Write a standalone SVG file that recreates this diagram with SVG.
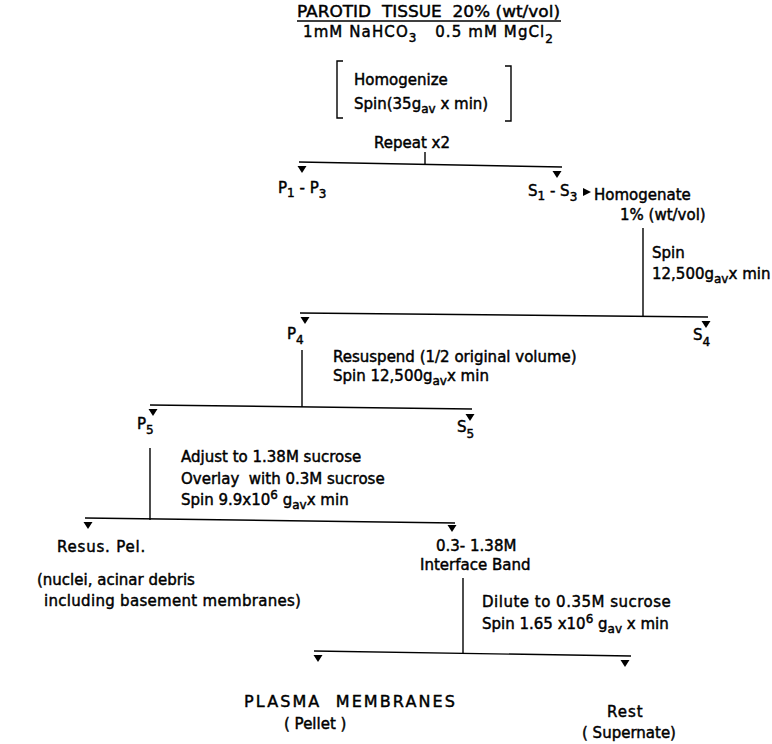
<svg xmlns="http://www.w3.org/2000/svg" width="772" height="744" viewBox="0 0 772 744">
<style>
text{font-family:"DejaVu Sans","Liberation Sans",Arial,sans-serif;font-size:15px;fill:#000;stroke:#000;stroke-width:0.45;white-space:pre}
.sub{font-size:12px}
.big{font-size:16px}
.ln{stroke:#000;stroke-width:1.4;fill:none}
.tri{fill:#000}
</style>
<defs>
<path id="tri" d="M-4.5,0 L4.5,0 L0,7 Z"/>
</defs>
<rect width="772" height="744" fill="#fff"/>

<g id="connectors">
<line class="ln" x1="297" y1="21" x2="561" y2="21"/>
<path class="ln" d="M343,61 H337 V118 H343"/>
<path class="ln" d="M505,66 H511 V121 H505"/>
<line class="ln" x1="425" y1="152" x2="425" y2="164"/>
<line class="ln" x1="299" y1="162" x2="562" y2="167"/>
<use href="#tri" x="302" y="166" class="tri"/>
<use href="#tri" x="557" y="171" class="tri"/>
<path class="tri" d="M583,188 L591,192 L583,196 Z"/>
<line class="ln" x1="643" y1="228" x2="643" y2="316"/>
<line class="ln" x1="300" y1="313" x2="708" y2="317"/>
<use href="#tri" x="305" y="317" class="tri"/>
<use href="#tri" x="706" y="321" class="tri"/>
<line class="ln" x1="302" y1="350" x2="302" y2="407"/>
<line class="ln" x1="150" y1="405" x2="472" y2="409"/>
<use href="#tri" x="153" y="409" class="tri"/>
<use href="#tri" x="470" y="414" class="tri"/>
<line class="ln" x1="150" y1="448" x2="150" y2="520"/>
<line class="ln" x1="85" y1="518" x2="455" y2="523"/>
<use href="#tri" x="88" y="522" class="tri"/>
<use href="#tri" x="452" y="525" class="tri"/>
<line class="ln" x1="463" y1="578" x2="463" y2="653"/>
<line class="ln" x1="314" y1="651" x2="631" y2="656"/>
<use href="#tri" x="318" y="655" class="tri"/>
<use href="#tri" x="625" y="660" class="tri"/>
</g>

<g id="tissue">
<text class="big" x="297" y="17" textLength="263" lengthAdjust="spacingAndGlyphs">PAROTID  TISSUE  20% (wt/vol)</text>
<text x="303" y="37" textLength="250">1mM NaHCO<tspan class="sub" dy="5">3</tspan><tspan dy="-5">   0.5 mM MgCl</tspan><tspan class="sub" dy="6">2</tspan></text>
</g>
<g id="homogenize">
<text x="354" y="85">Homogenize</text>
<text x="354" y="109">Spin(35g<tspan class="sub" dy="4">av</tspan><tspan dy="-4"> x min)</tspan></text>
</g>
<g id="repeat"><text x="374" y="148">Repeat x2</text></g>
<g id="p1p3"><text x="278" y="193">P<tspan class="sub" dy="4">1</tspan><tspan dy="-4"> - P</tspan><tspan class="sub" dy="5">3</tspan></text></g>
<g id="s1s3"><text x="528" y="196">S<tspan class="sub" dy="4">1</tspan><tspan dy="-4"> - S</tspan><tspan class="sub" dy="5">3</tspan></text></g>
<g id="homogenate">
<text x="594" y="200">Homogenate</text>
<text x="620" y="220">1% (wt/vol)</text>
</g>
<g id="spin1">
<text x="652" y="258">Spin</text>
<text x="652" y="279">12,500g<tspan class="sub" dy="4">av</tspan><tspan dy="-4">x min</tspan></text>
</g>
<g id="p4"><text x="287" y="339">P<tspan class="sub" dy="5">4</tspan></text></g>
<g id="s4"><text x="693" y="340">S<tspan class="sub" dy="6">4</tspan></text></g>
<g id="resuspend">
<text x="333" y="362">Resuspend (1/2 original volume)</text>
<text x="333" y="381">Spin 12,500g<tspan class="sub" dy="4">av</tspan><tspan dy="-4">x min</tspan></text>
</g>
<g id="p5"><text x="137" y="429">P<tspan class="sub" dy="5">5</tspan></text></g>
<g id="s5"><text x="457" y="432">S<tspan class="sub" dy="6">5</tspan></text></g>
<g id="adjust">
<text x="181" y="462">Adjust to 1.38M sucrose</text>
<text x="181" y="484">Overlay  with 0.3M sucrose</text>
<text x="181" y="505">Spin 9.9x10<tspan class="sub" dy="-6">6</tspan><tspan dy="6"> g</tspan><tspan class="sub" dy="4">av</tspan><tspan dy="-4">x min</tspan></text>
</g>
<g id="resus-pel"><text x="57" y="552" letter-spacing="0.8">Resus. Pel.</text></g>
<g id="debris">
<text x="37" y="585">(nuclei, acinar debris</text>
<text x="44" y="606" letter-spacing="0.3">including basement membranes)</text>
</g>
<g id="interface">
<text x="436" y="551">0.3- 1.38M</text>
<text x="420" y="570">Interface Band</text>
</g>
<g id="dilute">
<text x="482" y="607" letter-spacing="0.5">Dilute to 0.35M sucrose</text>
<text x="482" y="629">Spin 1.65 x10<tspan class="sub" dy="-6">6</tspan><tspan dy="6"> g</tspan><tspan class="sub" dy="4">av</tspan><tspan dy="-4"> x min</tspan></text>
</g>
<g id="plasma">
<text class="big" x="244" y="707" letter-spacing="2.1">PLASMA  MEMBRANES</text>
<text x="284" y="729">( Pellet )</text>
</g>
<g id="rest">
<text x="607" y="717" letter-spacing="1">Rest</text>
<text x="582" y="738">( Supernate)</text>
</g>
</svg>
